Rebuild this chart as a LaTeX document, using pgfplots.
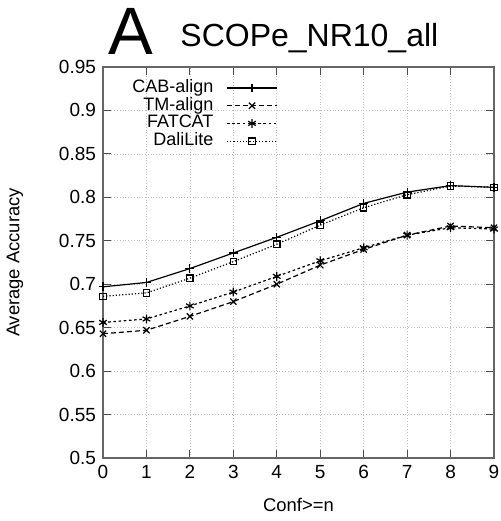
\documentclass[border=0pt]{standalone}
\usepackage{fontspec}
\setmainfont{Liberation Sans}
\usepackage{pgfplots}
\pgfplotsset{compat=1.18}

\begin{document}
\begin{tikzpicture}
\begin{axis}[
    scale only axis,
    width=195.5pt, height=195.5pt,
    xmin=0, xmax=9, ymin=0.5, ymax=0.95,
    xtick={0,...,9},
    ytick={0.5,0.55,...,0.96},
    yticklabels={0.5,0.55,0.6,0.65,0.7,0.75,0.8,0.85,0.9,0.95},
    tick align=inside,
    tick style={black!70, line width=0.5pt},
    major tick length=4pt,
    axis line style={black!60, line width=0.6pt},
    grid=major,
    major grid style={gray!50, densely dotted, line width=0.3pt},
    ticklabel style={font=\fontsize{9.5}{10}\selectfont},
    /pgf/number format/assume math mode=true,
    xlabel={Conf>=n},
    ylabel={Average Accuracy},
    label style={font=\fontsize{9.2}{11}\selectfont},
    xlabel style={at={(axis description cs:0.5,-0.12)}, anchor=center},
    ylabel style={at={(axis description cs:-0.225,0.5)}, anchor=center},
    legend style={
        draw=none, fill=none, inner sep=0pt,
        at={(rel axis cs:0.4476,0.969)}, anchor=north east,
        font=\fontsize{9}{10}\selectfont,
        legend cell align=right,
        row sep=0.35pt,
        column sep=6.5pt,
        nodes={inner sep=0pt, text height=6.5pt, text depth=2pt},
    },
    legend plot pos=right,
    legend image code/.code={
        \draw[mark repeat=2, mark phase=2, #1] plot coordinates {(0pt,0pt) (12.5pt,0pt) (25pt,0pt)};
    },
    every axis plot/.append style={black, line width=0.6pt},
]
% CAB-align
\addplot[solid, mark=+, mark size=2.2pt, mark options={solid}] coordinates {
    (0,0.697) (1,0.702) (2,0.718) (3,0.736) (4,0.754)
    (5,0.773) (6,0.793) (7,0.806) (8,0.8135) (9,0.8115)
};
\addlegendentry{CAB-align}
% TM-align
\addplot[dash pattern=on 2.5pt off 1.5pt, mark=x, mark size=2.2pt, mark options={solid}] coordinates {
    (0,0.643) (1,0.647) (2,0.663) (3,0.680) (4,0.700)
    (5,0.722) (6,0.740) (7,0.7565) (8,0.767) (9,0.765)
};
\addlegendentry{TM-align}
% FATCAT
\addplot[dash pattern=on 1.3pt off 1.3pt, mark=asterisk, mark size=2.2pt, mark options={solid}] coordinates {
    (0,0.656) (1,0.660) (2,0.675) (3,0.691) (4,0.709)
    (5,0.727) (6,0.742) (7,0.7565) (8,0.765) (9,0.7635)
};
\addlegendentry{FATCAT}
% DaliLite
\addplot[densely dotted, mark=square, mark size=1.6pt, mark options={solid}] coordinates {
    (0,0.686) (1,0.690) (2,0.707) (3,0.726) (4,0.746)
    (5,0.768) (6,0.788) (7,0.803) (8,0.813) (9,0.8115)
};
\addlegendentry{DaliLite}
\coordinate (ll) at (rel axis cs:0,0);
\coordinate (ul) at (rel axis cs:0,1);
\coordinate (ur) at (rel axis cs:1,1);
\end{axis}
\node[anchor=base west, font=\fontsize{33.5}{36}\selectfont, inner sep=0pt]
    at ([shift={(2.5pt,6pt)}]ul) {A};
\node[anchor=base west, font=\fontsize{16}{18}\selectfont, inner sep=0pt]
    at ([shift={(38.5pt,10pt)}]ul) {SCOPe\_NR10\_all};
\pgfresetboundingbox
\path ([shift={(-51.5pt,-31.5pt)}]ll) rectangle ([shift={(3.5pt,33.5pt)}]ur);
\end{tikzpicture}
\end{document}
